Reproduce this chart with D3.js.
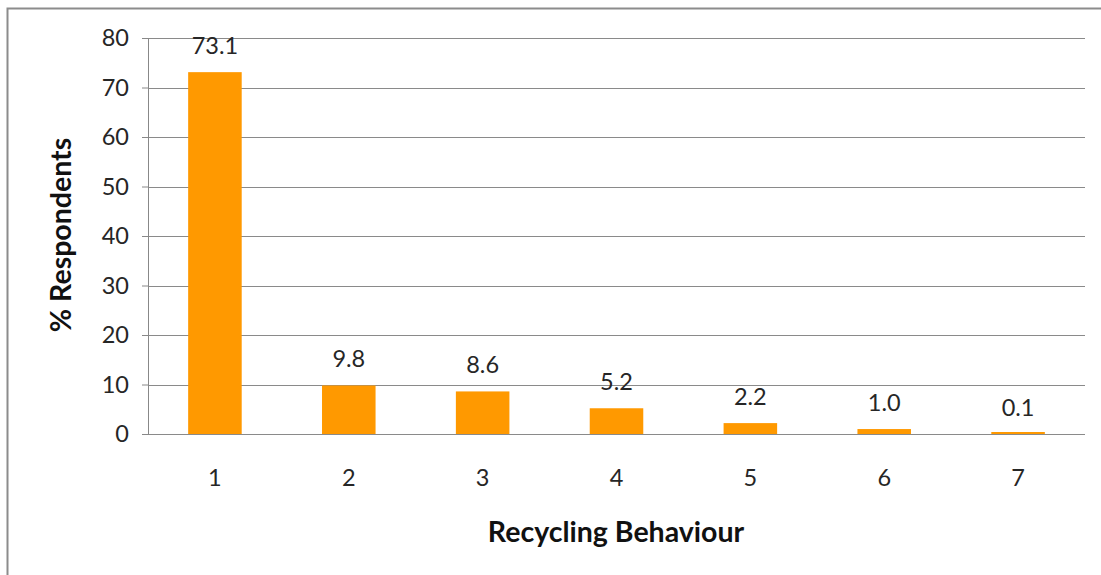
<!DOCTYPE html>
<html>
<head>
<meta charset="utf-8">
<script src="https://cdn.jsdelivr.net/npm/d3@7"></script>
<style>
  html, body { margin: 0; padding: 0; background: #fff; }
  svg { display: block; font-family: Lato, "Open Sans", sans-serif; }
</style>
</head>
<body>
<div id="chart"></div>
<script>
const categories = ["1", "2", "3", "4", "5", "6", "7"];
const values = [73.1, 9.8, 8.6, 5.2, 2.2, 1.0, 0.1];
const yTicks = [0, 10, 20, 30, 40, 50, 60, 70, 80];

const width = 1101;
const height = 575;
const margin = { top: 38, right: 16, bottom: 141, left: 148 };

const svg = d3.select("#chart")
  .append("svg")
  .attr("width", width)
  .attr("height", height);

// outer frame (only top and left visible in the picture)
svg.append("rect")
  .attr("x", 7.5)
  .attr("y", 8.5)
  .attr("width", width + 10)
  .attr("height", height + 10)
  .attr("fill", "none")
  .attr("stroke", "#8c8c8c")
  .attr("stroke-width", 2);

const x = d3.scaleBand()
  .domain(categories)
  .range([margin.left, width - margin.right])
  .paddingInner(0.6)
  .paddingOuter(0.3);

const y = d3.scaleLinear()
  .domain([0, 80])
  .range([height - margin.bottom, margin.top]);

// gridlines
svg.append("g")
  .selectAll("line")
  .data(yTicks)
  .join("line")
  .attr("x1", margin.left)
  .attr("x2", width - margin.right)
  .attr("y1", (d) => Math.round(y(d)) + 0.5)
  .attr("y2", (d) => Math.round(y(d)) + 0.5)
  .attr("stroke", "#8a8a8a")
  .attr("stroke-width", 1);

// y axis
const yAxis = svg.append("g")
  .attr("transform", `translate(${margin.left},0)`)
  .call(d3.axisLeft(y).tickValues(yTicks).tickSize(6).tickPadding(13));

yAxis.select(".domain").attr("stroke", "#888");
yAxis.selectAll(".tick line").attr("stroke", "#888");
yAxis.selectAll(".tick text")
  .attr("font-size", 23.5)
  .attr("font-family", "Lato, sans-serif")
  .attr("fill", "#262626");

// bars
svg.append("g")
  .selectAll("rect")
  .data(values)
  .join("rect")
  .attr("x", (d, i) => x(categories[i]))
  .attr("y", (d) => Math.min(y(d), y(0) - 2))
  .attr("width", x.bandwidth())
  .attr("height", (d) => Math.max(y(0) - y(d), 2))
  .attr("fill", "#ff9900");

// data labels
svg.append("g")
  .selectAll("text")
  .data(values)
  .join("text")
  .attr("x", (d, i) => x(categories[i]) + x.bandwidth() / 2)
  .attr("y", (d) => y(d) - 18)
  .attr("text-anchor", "middle")
  .attr("font-size", 23.5)
  .attr("fill", "#262626")
  .text((d) => d.toFixed(1));

// category labels
svg.append("g")
  .selectAll("text")
  .data(categories)
  .join("text")
  .attr("x", (d) => x(d) + x.bandwidth() / 2)
  .attr("y", height - margin.bottom + 52)
  .attr("text-anchor", "middle")
  .attr("font-size", 23.5)
  .attr("fill", "#262626")
  .text((d) => d);

// axis titles
svg.append("text")
  .attr("x", 616)
  .attr("y", 542)
  .attr("text-anchor", "middle")
  .attr("font-size", 28.5)
  .attr("font-weight", "bold")
  .attr("fill", "#111")
  .text("Recycling Behaviour");

svg.append("text")
  .attr("transform", "translate(71,235) rotate(-90)")
  .attr("text-anchor", "middle")
  .attr("font-size", 28.5)
  .attr("font-weight", "bold")
  .attr("fill", "#111")
  .text("% Respondents");
</script>
</body>
</html>
